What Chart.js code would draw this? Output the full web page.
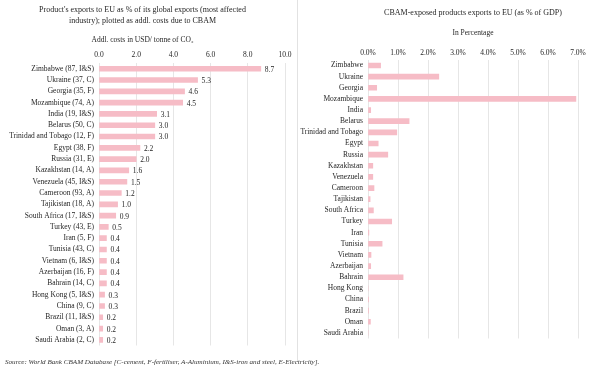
<!DOCTYPE html>
<html>
<head>
<meta charset="utf-8">
<script src="https://cdn.jsdelivr.net/npm/chart.js@4.4.1/dist/chart.umd.min.js"></script>
<style>
    body { margin: 0; background: #fff; }
    #page { position: relative; width: 600px; height: 370px; background: #fff; overflow: hidden; }
    #left { position: absolute; left: 0; top: 0; width: 298px; height: 355px; }
    #right { position: absolute; left: 300px; top: 0; width: 300px; height: 348px; }
    #divider { position: absolute; left: 297px; top: 0; width: 1px; height: 362px; background: #e2e2e2; }
    #source {
        position: absolute; left: 5px; top: 358px;
        font: italic 7.1px 'Liberation Serif', serif; color: #333;
        white-space: nowrap;
    }
</style>
</head>
<body>
<div id="page">
    <div id="left"><canvas id="costChart"></canvas></div>
    <div id="divider"></div>
    <div id="right"><canvas id="gdpChart"></canvas></div>
    <div id="source">Source: World Bank CBAM Database [C-cement, F-fertiliser, A-Aluminium, I&amp;S-iron and steel, E-Electricity].</div>
</div>
<script>
// data
const costLabels = [
    'Zimbabwe (87, I&S)', 'Ukraine (37, C)', 'Georgia (35, F)', 'Mozambique (74, A)',
    'India (19, I&S)', 'Belarus (50, C)', 'Trinidad and Tobago (12, F)', 'Egypt (38, F)',
    'Russia (31, E)', 'Kazakhstan (14, A)', 'Venezuela (45, I&S)', 'Cameroon (93, A)',
    'Tajikistan (18, A)', 'South Africa (17, I&S)', 'Turkey (43, E)', 'Iran (5, F)',
    'Tunisia (43, C)', 'Vietnam (6, I&S)', 'Azerbaijan (16, F)', 'Bahrain (14, C)',
    'Hong Kong (5, I&S)', 'China (9, C)', 'Brazil (11, I&S)', 'Oman (3, A)', 'Saudi Arabia (2, C)'
];
const costValues = [8.7, 5.3, 4.6, 4.5, 3.1, 3.0, 3.0, 2.2, 2.0, 1.6, 1.5, 1.2, 1.0, 0.9,
    0.5, 0.4, 0.4, 0.4, 0.4, 0.4, 0.3, 0.3, 0.2, 0.2, 0.2];

const gdpLabels = [
    'Zimbabwe', 'Ukraine', 'Georgia', 'Mozambique', 'India', 'Belarus', 'Trinidad and Tobago',
    'Egypt', 'Russia', 'Kazakhstan', 'Venezuela', 'Cameroon', 'Tajikistan', 'South Africa',
    'Turkey', 'Iran', 'Tunisia', 'Vietnam', 'Azerbaijan', 'Bahrain', 'Hong Kong', 'China',
    'Brazil', 'Oman', 'Saudi Arabia'
];
const gdpValues = [0.42, 2.36, 0.29, 6.93, 0.09, 1.37, 0.96, 0.34, 0.66, 0.16, 0.16, 0.2,
    0.07, 0.18, 0.79, 0.03, 0.47, 0.1, 0.09, 1.17, 0, 0.02, 0.02, 0.08, 0];

const barColor = '#f6bcc6';
const gridColor = '#e6e6e6';
const textColor = '#262626';

Chart.defaults.font.family = "'Liberation Serif', serif";
Chart.defaults.font.size = 7.5;
Chart.defaults.color = textColor;
Chart.defaults.animation = false;

// numbers at the end of each bar
const valueLabels = {
    id: 'valueLabels',
    afterDatasetsDraw(chart) {
        const ctx = chart.ctx;
        const meta = chart.getDatasetMeta(0);
        const values = chart.data.datasets[0].data;
        ctx.save();
        ctx.font = "7.5px 'Liberation Serif', serif";
        ctx.fillStyle = textColor;
        ctx.textBaseline = 'middle';
        meta.data.forEach((bar, i) => {
            ctx.fillText(values[i].toFixed(1), bar.x + 4, bar.y + 1);
        });
        ctx.restore();
    }
};

new Chart(document.getElementById('costChart'), {
    type: 'bar',
    data: {
        labels: costLabels,
        datasets: [{
            data: costValues,
            backgroundColor: barColor,
            barThickness: 5
        }]
    },
    options: {
        indexAxis: 'y',
        responsive: true,
        maintainAspectRatio: false,
        layout: { padding: { right: 13 } },
        scales: {
            x: {
                position: 'top',
                min: 0,
                max: 10,
                ticks: {
                    stepSize: 2,
                    padding: 3.8,
                    callback: (v) => v.toFixed(1)
                },
                grid: { color: gridColor, drawTicks: false },
                border: { display: false }
            },
            y: {
                ticks: { padding: 5, autoSkip: false },
                grid: { display: false, drawTicks: false },
                border: { display: false },
                afterFit: (scale) => { scale.width = 99; }
            }
        },
        plugins: {
            legend: { display: false },
            title: {
                display: true,
                text: ["Product's exports to EU as % of its global exports (most affected",
                       'industry); plotted as addl. costs due to CBAM'],
                font: { size: 8, weight: 'normal', lineHeight: 1.375 },
                color: textColor,
                padding: { top: 4, bottom: 0 }
            },
            subtitle: {
                display: true,
                text: 'Addl. costs in USD/ tonne of CO₂',
                font: { size: 7.5, lineHeight: 1.2 },
                color: textColor,
                padding: { top: 10, bottom: 1.5 }
            }
        }
    },
    plugins: [valueLabels]
});

new Chart(document.getElementById('gdpChart'), {
    type: 'bar',
    data: {
        labels: gdpLabels,
        datasets: [{
            data: gdpValues,
            backgroundColor: barColor,
            barThickness: 5
        }]
    },
    options: {
        indexAxis: 'y',
        responsive: true,
        maintainAspectRatio: false,
        layout: { padding: { right: 22 } },
        scales: {
            x: {
                position: 'top',
                min: 0,
                max: 7,
                ticks: {
                    stepSize: 1,
                    padding: 2.2,
                    callback: (v) => v.toFixed(1) + '%'
                },
                title: {
                    display: true,
                    text: 'In Percentage',
                    font: { size: 7.5, lineHeight: 1.2 },
                    padding: { top: 4, bottom: 9 }
                },
                grid: { color: gridColor, drawTicks: false },
                border: { display: false }
            },
            y: {
                ticks: { padding: 5, autoSkip: false },
                grid: { display: false, drawTicks: false },
                border: { display: false },
                afterFit: (scale) => { scale.width = 68; }
            }
        },
        plugins: {
            legend: { display: false },
            title: {
                display: true,
                fullSize: false,
                text: 'CBAM-exposed products exports to EU (as % of GDP)',
                font: { size: 8, weight: 'normal', lineHeight: 1.2 },
                color: textColor,
                padding: { top: 7.7, bottom: 7.2 }
            }
        }
    }
});
</script>
</body>
</html>
